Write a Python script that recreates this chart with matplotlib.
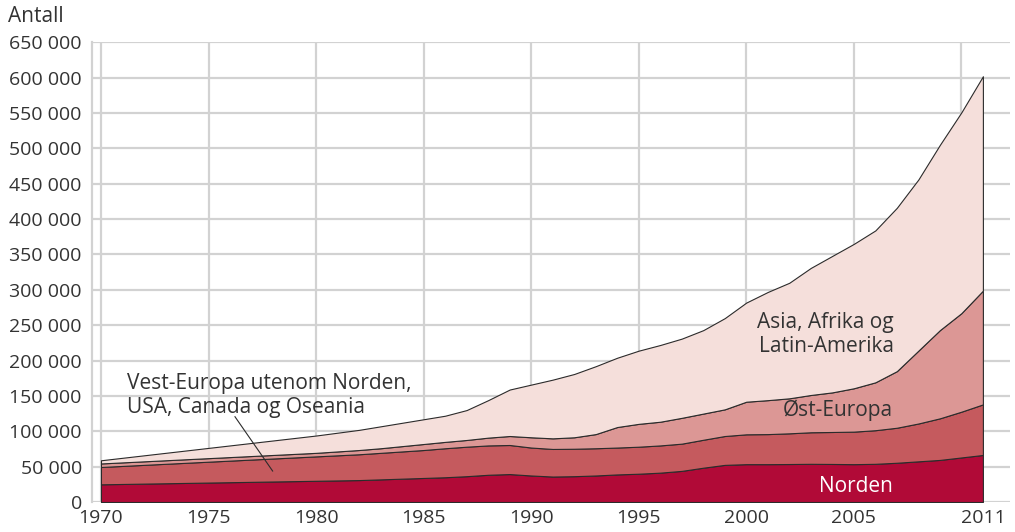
"""Innvandrere i Norge etter landbakgrunn, 1970-2011 (stablet areal)."""
import matplotlib.pyplot as plt

years = list(range(1970, 2012))

# antall personer per landgruppe (lest av figuren)
norden = [25000, 25500, 26000, 26500, 27000, 27500, 28000, 28500, 29000, 29500,
          30000, 30500, 31000, 32000, 33000, 34000, 35000, 36500, 38500, 39500,
          37500, 36000, 36500, 37500, 39000, 40000, 41500, 44000, 48500, 52500,
          53500, 53500, 53700, 54000, 53800, 53500, 54000, 55500, 57500, 59500,
          63000, 66500]
vest_europa = [24500, 25500, 26500, 27500, 28500, 29500, 30500, 31500, 32500, 33500,
               34500, 35500, 36500, 37500, 38500, 39500, 41000, 41700, 41500, 41100,
               39500, 39000, 38800, 38500, 38000, 38200, 38500, 38500, 39500, 40800,
               42200, 42500, 43400, 44600, 45200, 46000, 47500, 49500, 53500, 58800,
               64700, 71500]
ost_europa = [5000, 5000, 5000, 5000, 5000, 5000, 5000, 5000, 5000, 5000,
              5000, 5500, 6000, 6500, 7500, 8500, 9000, 9500, 11000, 12700,
              14500, 15000, 16200, 20000, 29000, 32300, 33500, 36500, 37000, 37700,
              46100, 48000, 49500, 52700, 56000, 61300, 67700, 80000, 103000, 124700,
              139300, 160800]
asia_afrika = [4500, 6500, 8500, 10500, 12500, 14500, 16500, 18500, 20500, 22500,
               24500, 26500, 28500, 31000, 33000, 35000, 37000, 42300, 53000, 65700,
               74500, 83000, 89500, 96000, 98000, 103500, 108500, 112000, 118000, 129000,
               140200, 153000, 163400, 179700, 193000, 204200, 214800, 231000, 242000, 262000,
               284000, 303200]

y_ticks = list(range(0, 650001, 50000))
x_ticks = [1970, 1975, 1980, 1985, 1990, 1995, 2000, 2005, 2011]

C_NORDEN, C_VEST, C_OST, C_ASIA = "#b10a37", "#c55a5e", "#dc9795", "#f5dfdb"
GRID = "#d2d2d2"
TXT = "#333333"

plt.rcParams.update({
    "font.family": ["Open Sans", "DejaVu Sans"],
    "font.size": 14,
    "text.color": TXT,
    "xtick.color": TXT,
    "ytick.color": TXT,
})

fig = plt.figure(figsize=(10.15, 5.32), dpi=100)
ax = fig.add_axes([91.5 / 1015, 30 / 532, (1010 - 91.5) / 1015, (502 - 42.3) / 532])

ax.stackplot(years, norden, vest_europa, ost_europa, asia_afrika,
             colors=[C_NORDEN, C_VEST, C_OST, C_ASIA],
             edgecolor="#2b2b2b", linewidth=0.8, zorder=3)

ax.set_xlim(1969.56, 2012.26)
ax.set_ylim(0, 650000)
ax.set_yticks(y_ticks)
ax.set_yticklabels([f"{v:,}".replace(",", " ") for v in y_ticks])
ax.set_xticks(x_ticks)
ax.tick_params(axis="both", length=0, labelsize=14)
ax.tick_params(axis="y", pad=7)
ax.tick_params(axis="x", pad=5)

# rutenett: horisontalt for hver 50 000, vertikalt for hvert 5. aar
for v in y_ticks:
    ax.axhline(v, color=GRID, lw=1.6, zorder=1)
for yr in range(1970, 2011, 5):
    ax.axvline(yr, color=GRID, lw=1.6, zorder=1)

for side in ("top", "right", "bottom"):
    ax.spines[side].set_visible(False)
ax.spines["left"].set_color(GRID)
ax.spines["left"].set_linewidth(1.6)

fig.text(8 / 1015, 1 - 17 / 532, "Antall", fontsize=15, va="center", ha="left")

ax.text(2006.87, 236800, "Asia, Afrika og\nLatin-Amerika", ha="right", va="center",
        fontsize=15, linespacing=1.2, zorder=4)
ax.text(2006.82, 130100, "Øst-Europa", ha="right", va="center", fontsize=15, zorder=4)
ax.text(2006.82, 22600, "Norden", ha="right", va="center", fontsize=15,
        color="white", zorder=4)
ax.text(1971.21, 150600, "Vest-Europa utenom Norden,\nUSA, Canada og Oseania",
        ha="left", va="center", fontsize=15, linespacing=1.2, zorder=4)
ax.plot([1976.23, 1977.98], [120600, 43800], color="#2b2b2b", lw=0.8, zorder=4)

fig.savefig("out.png", dpi=100)
